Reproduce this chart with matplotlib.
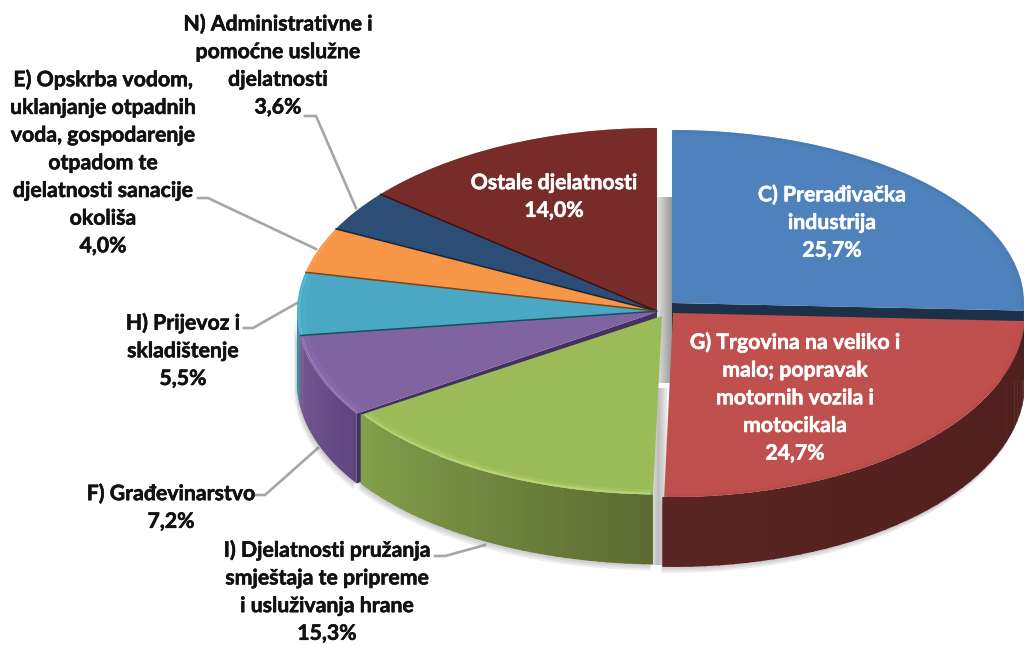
import matplotlib
matplotlib.use('Agg')
import matplotlib.pyplot as plt
import matplotlib.patheffects as pe
import numpy as np
from matplotlib.transforms import Affine2D
from matplotlib.colors import to_rgb

plt.rcParams['font.family'] = ['Lato', 'DejaVu Sans']

# data, clockwise from 12 o'clock
names = ['C) Prerađivačka\nindustrija',
         'G) Trgovina na veliko i\nmalo; popravak\nmotornih vozila i\nmotocikala',
         'I) Djelatnosti pružanja\nsmještaja te pripreme\ni usluživanja hrane',
         'F) Građevinarstvo',
         'H) Prijevoz i\nskladištenje',
         'E) Opskrba vodom,\nuklanjanje otpadnih\nvoda, gospodarenje\notpadom te\ndjelatnosti sanacije\nokoliša',
         'N) Administrativne i\npomoćne uslužne\ndjelatnosti',
         'Ostale djelatnosti']
values = [25.7, 24.7, 15.3, 7.2, 5.5, 4.0, 3.6, 14.0]
pct_labels = ['25,7%', '24,7%', '15,3%', '7,2%', '5,5%', '4,0%', '3,6%', '14,0%']

top_colors = ['#4f81bd', '#c0504d', '#9bbb59', '#8064a2', '#4aa8c4', '#f79646', '#2c4d75', '#772c2a']
dark_colors = ['#1c3048', '#3c1211', '#4f6130', '#46305f', '#12505f', '#7a4418', '#14263c', '#3c1211']
rim_colors = ['#4675ab', '#b04a47', '#cbe584', '#a084c8', '#58cbe6', '#f9a860', '#2c4d75', '#772c2a']
wall_left = ['#2c4a70', '#5a2422', '#83a04a', '#72578f', '#3a8ca2', '#f79646', '#2c4d75', '#772c2a']
wall_right = ['#1c3048', '#4d1f1d', '#5d6c33', '#604681', '#3a8ca2', '#f79646', '#2c4d75', '#772c2a']

# picture geometry in pixels
W, H = 1024, 646
CX, CY, RX, RY = 657, 312, 360, 184
DEPTH = 70 / RY
# slice shift (px) and scale, per slice
shift_px = [(15, -9), (16, 1), (5, 4), (0, 0), (0, 0), (0, 0), (0, 0), (0, 0)]
scale_xy = [(0.978, 0.94), (0.978, 1.0), (1.0, 0.97), (1, 1), (1, 1), (1, 1), (1, 1), (1, 1)]
draw_order = [7, 6, 5, 4, 3, 2, 0, 1]

fig = plt.figure(figsize=(W / 100, H / 100), dpi=100, facecolor='white')

px = fig.add_axes([0, 0, 1, 1], zorder=0)
px.set_xlim(0, W)
px.set_ylim(H, 0)
px.axis('off')

ax = fig.add_axes([0, 0, 1, 1], zorder=1)
ax.patch.set_alpha(0)

wedges, _ = ax.pie(values, startangle=90, counterclock=False, radius=1, center=(0, 0))
ax.set_aspect('auto')
ax.set_xlim(-CX / RX, (W - CX) / RX)
ax.set_ylim((CY - H) / RY, CY / RY)
ax.axis('off')

# boundaries in degrees clockwise from the top
edges = np.concatenate([[0], np.cumsum(values)]) / np.sum(values) * 360


def point(i, deg, r=1.0, drop=0.0):
    t = np.radians(deg)
    sx, sy = scale_xy[i]
    dx, dy = shift_px[i]
    return (dx / RX + sx * r * np.sin(t), -dy / RY + sy * r * np.cos(t) - drop)


for k, i in enumerate(draw_order):
    z = 10 + k * 5
    a, b = edges[i], edges[i + 1]
    w = wedges[i]
    sx, sy = scale_xy[i]
    dx, dy = shift_px[i]
    w.set_transform(Affine2D().scale(sx, sy).translate(dx / RX, -dy / RY) + ax.transData)
    w.set_facecolor(top_colors[i])
    w.set_edgecolor('none')
    w.set_zorder(z + 3)

    lo, hi = max(a, 90), min(b, 270)
    if hi > lo:
        angs = np.linspace(lo, hi, 40)
        # soft shadow under the wall
        xs = [point(i, d)[0] for d in angs] + [point(i, d, drop=DEPTH)[0] for d in angs[::-1]]
        ys = [point(i, d)[1] for d in angs] + [point(i, d, drop=DEPTH)[1] for d in angs[::-1]]
        for off in [6, 4, 2]:
            ax.fill(np.array(xs) - off * 0.5 / RX, np.array(ys) - off / RY, color='#777777',
                    alpha=0.13, lw=0, zorder=2)
        # wall, angles run from right to left along the front
        c0, c1 = np.array(to_rgb(wall_left[i])), np.array(to_rgb(wall_right[i]))
        for j in range(len(angs) - 1):
            f = j / (len(angs) - 2)
            p1, p2 = point(i, angs[j]), point(i, angs[j + 1] + 0.3)
            q1, q2 = point(i, angs[j], drop=DEPTH), point(i, angs[j + 1] + 0.3, drop=DEPTH)
            ax.fill([p1[0], p2[0], q2[0], q1[0]], [p1[1], p2[1], q2[1], q1[1]],
                    color=c0 * f + c1 * (1 - f), lw=0, zorder=z + 1)

    # cut face on the side of the neighbouring slice
    cut = None
    if i == 3:
        cut = a
    if i == 0:
        cut = b
    if cut is not None:
        p, o = point(i, cut), point(i, cut, r=0)
        q, m = point(i, cut, drop=DEPTH), point(i, cut, r=0, drop=DEPTH)
        ax.fill([o[0], p[0], q[0], m[0]], [o[1], p[1], q[1], m[1]], color=dark_colors[i], lw=0, zorder=z + 2)

    # thin dark seam on the slices at the back
    if i >= 4:
        p, o = point(i, a), point(i, a, r=0)
        ax.plot([o[0], p[0]], [o[1], p[1]], color=dark_colors[i], lw=2.2,
                solid_capstyle='butt', zorder=z + 4)

    # bevel along the outer rim
    angs = np.linspace(a + 0.4, b - 0.4, 60)
    for r, lw, alpha in [(0.994, 1.6, 0.55), (0.982, 2.6, 0.15)]:
        pts = np.array([point(i, d, r=r) for d in angs])
        ax.plot(pts[:, 0], pts[:, 1], color=rim_colors[i], lw=lw, alpha=alpha,
                solid_capstyle='butt', zorder=z + 4)

# grey gap between the main part of the pie and the pulled slices
gap = np.tile(np.linspace(0.9, 0.6, 30), (2, 1))
px.imshow(gap, extent=(656, 672, 383, 197), cmap='gray', vmin=0, vmax=1, aspect='auto', zorder=1)
gap2 = np.tile(np.concatenate([np.linspace(0.92, 0.74, 15), np.linspace(0.74, 0.92, 15)]), (2, 1))
px.imshow(gap2, extent=(650, 667, 565, 388), cmap='gray', vmin=0, vmax=1, aspect='auto', zorder=1)
px.set_xlim(0, W)
px.set_ylim(H, 0)

# leader lines
leaders = [
    ([305, 316, 356], [116, 116, 208]),
    ([198, 208, 316], [198, 198, 249]),
    ([244, 253, 297], [328, 328, 303]),
    ([255, 265, 318], [495, 495, 448]),
    ([435, 445, 485], [556, 556, 545]),
]
for lx, ly in leaders:
    px.plot(lx, ly, color='#a6a6a6', lw=1.9, zorder=3)

# label blocks: slice index, centre x, centre y, colour
label_pos = [
    (0, 832, 223, 'white'),
    (1, 795, 398, 'white'),
    (2, 327, 592, '#111111'),
    (3, 171, 508, '#111111'),
    (4, 183, 351, '#111111'),
    (5, 103, 163, '#111111'),
    (6, 278, 66, '#111111'),
    (7, 554, 197, 'white'),
]
for i, x, y, col in label_pos:
    t = ax.text(x, y, names[i] + '\n' + pct_labels[i], transform=px.transData, ha='center', va='center',
                ma='center', color=col, fontsize=15.3, fontweight='bold', linespacing=1.48, zorder=100)
    t.set_path_effects([pe.withStroke(linewidth=0.4, foreground=col)])

fig.savefig('out.png', dpi=100)
